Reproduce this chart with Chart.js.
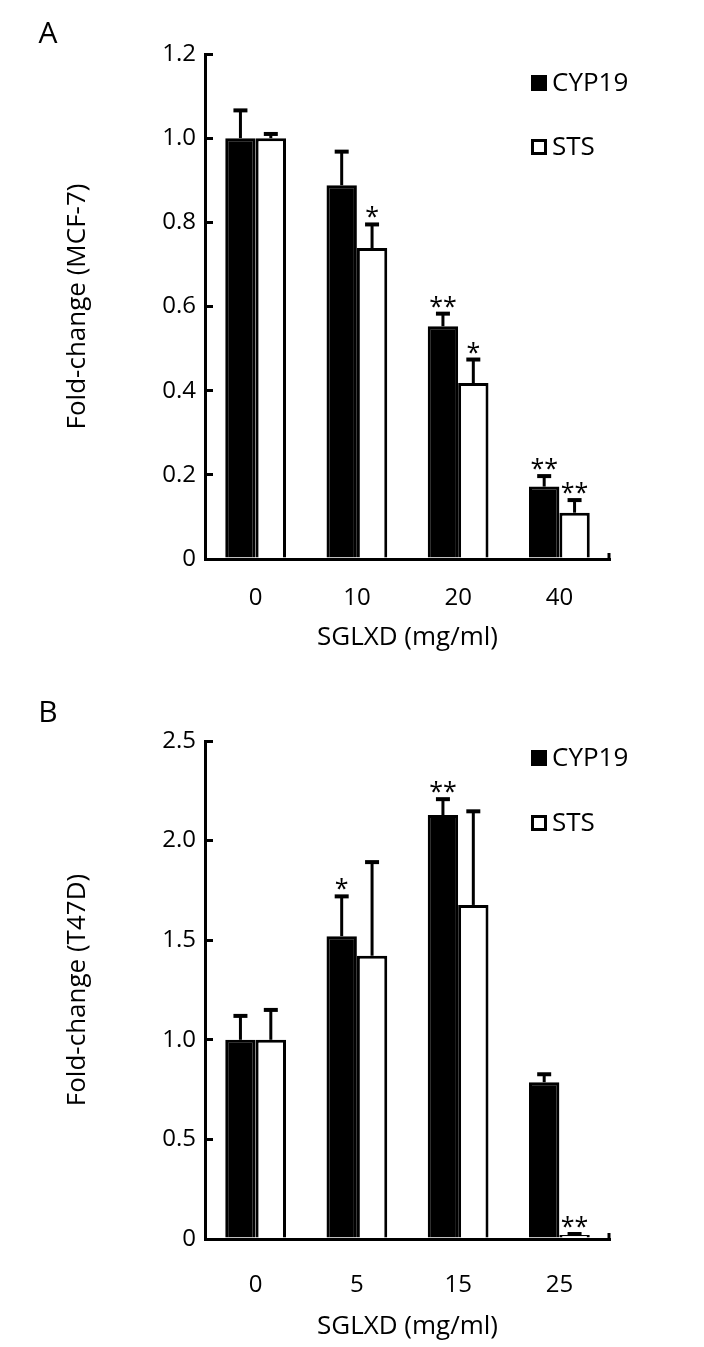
<!DOCTYPE html>
<html><head><meta charset="utf-8">
<script src="https://cdn.jsdelivr.net/npm/chart.js@4/dist/chart.umd.min.js"></script>
<style>
html,body{margin:0;padding:0;background:#fff;}
#wrap{position:relative;width:704px;height:1347px;background:#fff;}
canvas{position:absolute;left:0;display:block;}
</style></head><body>
<div id="wrap">
<canvas id="cA" width="704" height="673" style="top:0"></canvas>
<canvas id="cB" width="704" height="674" style="top:673px"></canvas>
</div>
<script>
// ---- data ----
const seriesNames = ['CYP19', 'STS'];

const categoriesA = ['0', '10', '20', '40'];
const cyp19A = [1.0, 0.888, 0.553, 0.172];
const cyp19ErrA = [0.066, 0.08, 0.03, 0.025];
const stsA = [1.0, 0.739, 0.418, 0.11];
const stsErrA = [0.01, 0.056, 0.056, 0.03];
const cyp19SigA = ['', '', '**', '**'];
const stsSigA = ['', '*', '*', '**'];
const yTicksA = ['0', '0.2', '0.4', '0.6', '0.8', '1.0', '1.2'];

const categoriesB = ['0', '5', '15', '25'];
const cyp19B = [1.0, 1.52, 2.128, 0.787];
const cyp19ErrB = [0.12, 0.2, 0.08, 0.04];
const stsB = [1.0, 1.422, 1.677, 0.02];
const stsErrB = [0.15, 0.47, 0.47, 0.005];
const cyp19SigB = ['', '*', '**', ''];
const stsSigB = ['', '', '', '**'];
const yTicksB = ['0', '0.5', '1.0', '1.5', '2.0', '2.5'];

const xTitle = 'SGLXD (mg/ml)';
const yTitleA = 'Fold-change (MCF-7)';
const yTitleB = 'Fold-change (T47D)';

// ---- styling ----
const FONT = "'Open Sans', 'Noto Sans', 'DejaVu Sans', sans-serif";
const INK = '#000';

const errPlugin = {
  id: 'errbars',
  afterDatasetsDraw(chart, args, opts) {
    const ctx = chart.ctx, y = chart.scales.y;
    ctx.save();
    ctx.strokeStyle = INK; ctx.fillStyle = INK;
    chart.data.datasets.forEach((ds, di) => {
      const meta = chart.getDatasetMeta(di);
      meta.data.forEach((bar, i) => {
        const v = ds.data[i], e = ds.errors[i];
        const yTop = y.getPixelForValue(v + e);
        const x = bar.x;
        ctx.lineCap = 'butt';
        ctx.lineWidth = 3;
        ctx.beginPath(); ctx.moveTo(x, bar.y); ctx.lineTo(x, yTop); ctx.stroke();
        ctx.lineWidth = 4;
        ctx.beginPath(); ctx.moveTo(x - 7, yTop); ctx.lineTo(x + 7, yTop); ctx.stroke();
        const s = ds.sig[i];
        if (s) {
          ctx.font = '25px ' + FONT;
          ctx.textAlign = 'center'; ctx.textBaseline = 'alphabetic';
          ctx.fillText(s, x, yTop + 1);
        }
      });
    });
    ctx.restore();
  }
};

const decoPlugin = {
  id: 'deco',
  afterDraw(chart, args, opts) {
    const ctx = chart.ctx, ca = chart.chartArea;
    ctx.save();
    // right-end tick of category axis
    ctx.strokeStyle = INK; ctx.lineWidth = 3;
    ctx.beginPath(); ctx.moveTo(ca.right - 1, ca.bottom); ctx.lineTo(ca.right - 1, ca.bottom - 6); ctx.stroke();
    // legend
    ctx.font = '26px ' + FONT; ctx.textAlign = 'left'; ctx.textBaseline = 'middle';
    chart.data.datasets.forEach((ds, i) => {
      const cy = opts.legendY[i], x = opts.legendX, s = 16;
      if (ds.backgroundColor === '#000') {
        ctx.fillStyle = INK; ctx.fillRect(x, cy - s / 2, s, s);
      } else {
        ctx.fillStyle = '#fff'; ctx.fillRect(x, cy - s / 2, s, s);
        ctx.lineWidth = 3; ctx.strokeStyle = INK;
        ctx.strokeRect(x + 1.5, cy - s / 2 + 1.5, s - 3, s - 3);
      }
      ctx.fillStyle = INK;
      ctx.fillText(ds.label, x + s + 5, cy + 1);
    });
    // panel letter
    ctx.font = '30px ' + FONT; ctx.textAlign = 'center'; ctx.textBaseline = 'middle';
    ctx.fillText(opts.letter, opts.letterX, opts.letterY);
    ctx.restore();
  }
};

function makeChart(id, cats, v1, e1, g1, v2, e2, g2, yMax, yStep, yLabels, yTitle, pad, xPad, xH, deco) {
  return new Chart(document.getElementById(id), {
    type: 'bar',
    data: {
      labels: cats,
      datasets: [
        { label: seriesNames[0], data: v1, errors: e1, sig: g1,
          backgroundColor: '#000', borderColor: INK, borderWidth: 3,
          categoryPercentage: 0.6, barPercentage: 1.0 },
        { label: seriesNames[1], data: v2, errors: e2, sig: g2,
          backgroundColor: '#fff', borderColor: INK, borderWidth: 3,
          categoryPercentage: 0.6, barPercentage: 1.0 }
      ]
    },
    options: {
      responsive: false,
      animation: false,
      layout: { padding: pad },
      plugins: {
        legend: { display: false },
        tooltip: { enabled: false },
        deco: deco
      },
      scales: {
        x: {
          offset: true,
          grid: { display: false, drawTicks: false },
          border: { display: true, color: INK, width: 3 },
          ticks: { color: INK, font: { family: FONT, size: 24 }, padding: xPad },
          title: { display: true, text: xTitle, color: INK, font: { family: FONT, size: 26 }, padding: 0 },
          afterFit(s) { s.height = xH; }
        },
        y: {
          min: 0, max: yMax,
          grid: { drawOnChartArea: false, drawTicks: true, tickLength: -8, color: INK, tickColor: INK, lineWidth: 3, tickWidth: 3 },
          border: { display: true, color: INK, width: 3 },
          ticks: { stepSize: yStep, color: INK, font: { family: FONT, size: 24 }, padding: 17,
                   callback: (v, i) => yLabels[i] },
          title: { display: true, text: yTitle, color: INK, font: { family: FONT, size: 26 }, padding: 0 },
          afterFit(s) { s.width = 143; }
        }
      }
    },
    plugins: [errPlugin, decoPlugin]
  });
}

makeChart('cA', categoriesA, cyp19A, cyp19ErrA, cyp19SigA, stsA, stsErrA, stsSigA,
  1.2, 0.2, yTicksA, yTitleA,
  { left: 62, right: 94, top: 54, bottom: 20 }, 25, 94,
  { legendX: 531, legendY: [83, 147], letter: 'A', letterX: 48, letterY: 34 });

makeChart('cB', categoriesB, cyp19B, cyp19ErrB, cyp19SigB, stsB, stsErrB, stsSigB,
  2.5, 0.5, yTicksB, yTitleB,
  { left: 62, right: 94, top: 68, bottom: 5 }, 32, 103,
  { legendX: 531, legendY: [85, 150], letter: 'B', letterX: 48, letterY: 40 });
</script>
</body></html>
